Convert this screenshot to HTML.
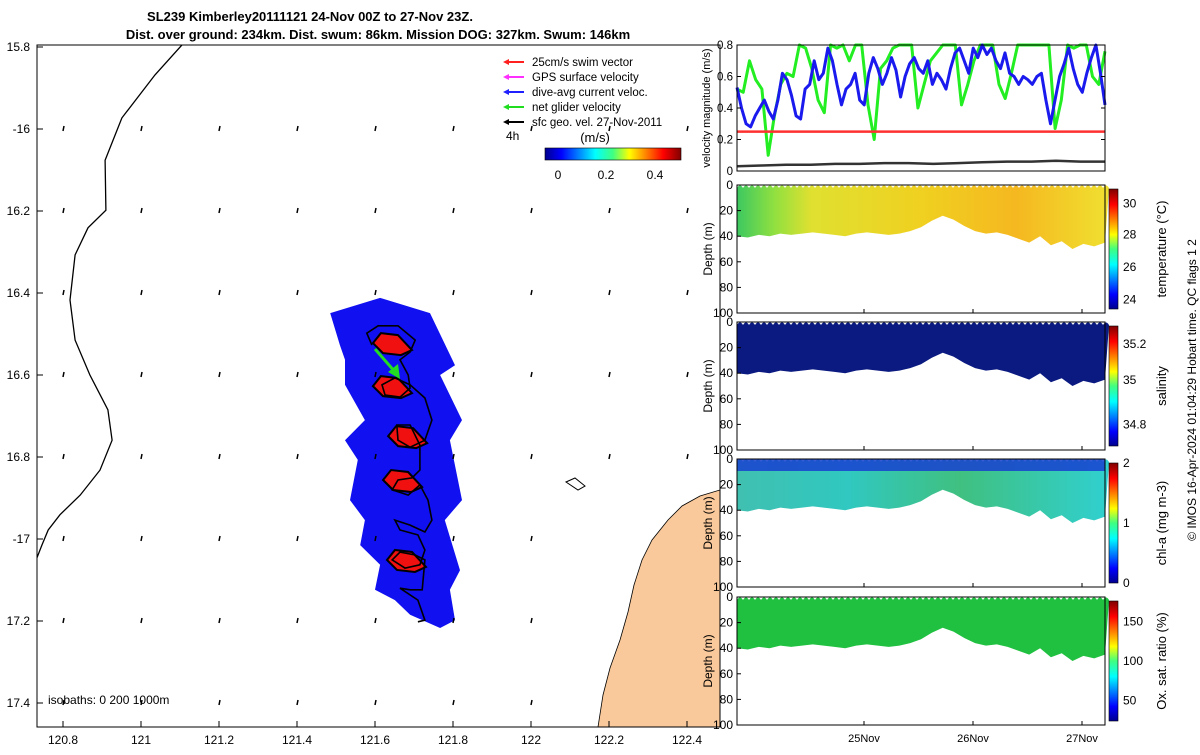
<!DOCTYPE html>
<html><head><meta charset="utf-8">
<style>
body{margin:0;background:#fff;font-family:"Liberation Sans",sans-serif;}
svg text{font-family:"Liberation Sans",sans-serif;}
</style></head>
<body>
<svg id="fig" width="1200" height="750" viewBox="0 0 1200 750">
<defs>
<linearGradient id="jet" x1="0" x2="1" y1="0" y2="0">
<stop offset="0" stop-color="#00008f"/><stop offset="0.12" stop-color="#0000ff"/><stop offset="0.37" stop-color="#00ffff"/><stop offset="0.5" stop-color="#40ff80"/><stop offset="0.62" stop-color="#ffff00"/><stop offset="0.87" stop-color="#ff0000"/><stop offset="1" stop-color="#800000"/></linearGradient>
<linearGradient id="jetv" x1="0" x2="0" y1="1" y2="0">
<stop offset="0" stop-color="#00008f"/><stop offset="0.12" stop-color="#0000ff"/><stop offset="0.37" stop-color="#00ffff"/><stop offset="0.5" stop-color="#40ff80"/><stop offset="0.62" stop-color="#ffff00"/><stop offset="0.87" stop-color="#ff0000"/><stop offset="1" stop-color="#800000"/></linearGradient>
<linearGradient id="gTemp" x1="0" x2="1"><stop offset="0" stop-color="#3cc860"/><stop offset="0.1" stop-color="#90e040"/><stop offset="0.2" stop-color="#e0e030"/><stop offset="0.5" stop-color="#f0d020"/><stop offset="0.75" stop-color="#f5b820"/><stop offset="1" stop-color="#f0e030"/></linearGradient>
<linearGradient id="gChl" x1="0" x2="1"><stop offset="0" stop-color="#40c0b0"/><stop offset="0.3" stop-color="#30c8c0"/><stop offset="0.6" stop-color="#40c080"/><stop offset="1" stop-color="#30d0d0"/></linearGradient>
<clipPath id="mapclip"><rect x="37" y="45" width="683" height="682"/></clipPath>
</defs>
<text x="310" y="21" font-size="13" font-weight="bold" text-anchor="middle">SL239 Kimberley20111121 24-Nov 00Z to 27-Nov 23Z.</text>
<text x="378" y="39" font-size="13" font-weight="bold" text-anchor="middle">Dist. over ground: 234km. Dist. swum: 86km. Mission DOG: 327km. Swum: 146km</text>
<g id="map"></g>
<g id="vel"></g>
<g id="sec"></g>
<text transform="translate(1196,390) rotate(-90)" font-size="12" text-anchor="middle">© IMOS 16-Apr-2024 01:04:29 Hobart time. QC flags 1  2</text>
</svg>
<script>
const NS="http://www.w3.org/2000/svg";
function mk(tag,attrs,parent,txt){const e=document.createElementNS(NS,tag);for(const k in attrs)e.setAttribute(k,attrs[k]);if(txt!==undefined)e.textContent=txt;parent.appendChild(e);return e;}

// ---------- MAP DATA ----------
const lonTicks=[120.8,121,121.2,121.4,121.6,121.8,122,122.2,122.4];
const latTicks=[-15.8,-16,-16.2,-16.4,-16.6,-16.8,-17,-17.2,-17.4];
const latLabels=["15.8","-16","16.2","16.4","16.6","16.8","-17","17.2","17.4"];
const coastLon=[121.105,121.036,120.951,120.908,120.910,120.864,120.831,120.818,120.831,120.869,120.915,120.926,120.895,120.844,120.792,120.762,120.746,120.733];
const coastLat=[-15.795,-15.868,-15.973,-16.076,-16.198,-16.241,-16.307,-16.417,-16.515,-16.600,-16.685,-16.759,-16.832,-16.893,-16.941,-16.978,-17.015,-17.046];
const blueLon=[121.485,121.613,121.741,121.805,121.767,121.823,121.792,121.823,121.779,121.818,121.792,121.805,121.767,121.690,121.651,121.600,121.613,121.562,121.574,121.536,121.556,121.523,121.574,121.523,121.523,121.510];
const blueLat=[-16.449,-16.412,-16.449,-16.576,-16.600,-16.710,-16.759,-16.905,-16.954,-17.076,-17.124,-17.198,-17.217,-17.185,-17.149,-17.124,-17.063,-17.015,-16.954,-16.905,-16.807,-16.759,-16.710,-16.624,-16.563,-16.527];
const redLon=[121.646,121.646,121.685,121.672,121.682];
const redLat=[-16.527,-16.632,-16.754,-16.861,-17.056];
const trackLon=[121.592,121.579,121.608,121.659,121.703,121.690,121.664,121.685,121.690,121.664,121.626,121.618,121.651,121.690,121.728,121.746,121.728,121.690,121.659,121.656,121.690,121.715,121.715,121.695,121.659,121.644,121.685,121.715,121.736,121.746,121.728,121.690,121.651,121.664,121.710,121.728,121.715,121.677,121.644,121.664,121.703,121.728,121.721,121.690,121.664,121.710,121.728,121.710];
const trackLat=[-16.527,-16.498,-16.480,-16.480,-16.515,-16.544,-16.563,-16.600,-16.632,-16.654,-16.649,-16.624,-16.607,-16.624,-16.656,-16.710,-16.759,-16.776,-16.759,-16.722,-16.722,-16.771,-16.832,-16.851,-16.856,-16.880,-16.893,-16.868,-16.905,-16.954,-16.983,-16.966,-16.954,-16.978,-16.990,-17.027,-17.063,-17.071,-17.051,-17.032,-17.039,-17.051,-17.124,-17.124,-17.120,-17.149,-17.198,-17.202];

const X=lon=>63+(lon-120.8)*390;
const Y=lat=>47+(-15.8-lat)*410;
const map=document.getElementById('map');
mk('rect',{x:37,y:45,width:683,height:682,fill:'#fff',stroke:'none'},map);
const mc=mk('g',{'clip-path':'url(#mapclip)'},map);
const land=mk('path',{d:'M720,490 L700,496 L682,506 L668,520 L652,540 L642,560 L634,585 L628,612 L620,640 L610,668 L603,695 L598,727 L720,727 Z',fill:'#f9c99b',stroke:'#000','stroke-width':0.8},mc);


mk('path',{d:'M566,482 L575,478 L585,486 L578,490 Z',fill:'none',stroke:'#000','stroke-width':1},mc);
let d='';blueLon.forEach((v,i)=>{d+=(i?'L':'M')+X(v).toFixed(1)+','+Y(blueLat[i]).toFixed(1);});
const bl=mk('path',{d:d+'Z',fill:'#1010f0'},mc);


redLon.forEach((v,i)=>{const cx=X(v),cy=Y(redLat[i]);
 const p=mk('polygon',{points:`${cx-20},${cy-2} ${cx-12},${cy-12} ${cx+5},${cy-10} ${cx+19},${cy+5} ${cx+8},${cy+10} ${cx-10},${cy+8}`,fill:'#f01010',stroke:'#000','stroke-width':2},mc);
 
 });
d='';trackLon.forEach((v,i)=>{d+=(i?'L':'M')+X(v).toFixed(1)+','+Y(trackLat[i]).toFixed(1);});
const tr=mk('path',{d:d,fill:'none',stroke:'#000','stroke-width':1.6},mc);


mk('line',{x1:375,y1:349,x2:396,y2:373,stroke:'#22dd22','stroke-width':3},mc);
mk('polygon',{points:'400,379 388,372 398,364',fill:'#22dd22'},mc);
d='';coastLon.forEach((v,i)=>{d+=(i?'L':'M')+X(v).toFixed(1)+','+Y(coastLat[i]).toFixed(1);});
const cl=mk('path',{d:d,fill:'none',stroke:'#000','stroke-width':1.3},mc);


lonTicks.forEach(lo=>latTicks.slice(1).forEach(la=>{const x=X(lo),y=Y(la);if(x>590&&y>500)return;
 mk('line',{x1:x,y1:y+2,x2:x+1,y2:y-3,stroke:'#000','stroke-width':1.5},mc);}));
mk('rect',{x:37,y:45,width:683,height:682,fill:'none',stroke:'#000','stroke-width':1},map);
lonTicks.forEach(v=>{const x=X(v);mk('line',{x1:x,y1:727,x2:x,y2:721,stroke:'#000'},map);
 const t=mk('text',{x:x,y:744,'font-size':12,'text-anchor':'middle'},map,String(v));
 });
latTicks.forEach((v,i)=>{const y=Y(v);mk('line',{x1:37,y1:y,x2:43,y2:y,stroke:'#000'},map);
 const t=mk('text',{x:30,y:y+4,'font-size':12,'text-anchor':'end'},map,latLabels[i]);
 });
mk('text',{x:48,y:704,'font-size':12},map,'isobaths: 0   200  1000m');
const legItems=[['25cm/s swim vector','#ff2020'],['GPS surface velocity','#ff30ff'],['dive-avg current veloc.','#2020ff'],['net glider velocity','#20dd20'],['sfc geo. vel. 27-Nov-2011','#000']];
legItems.forEach((it,i)=>{const y=62+i*15;const g=mk('g',{},map);
 
 mk('line',{x1:506,y1:y,x2:524,y2:y,stroke:it[1],'stroke-width':2},g);
 mk('polygon',{points:`${503},${y} ${509},${y-3} ${509},${y+3}`,fill:it[1]},g);
 mk('text',{x:532,y:y+4,'font-size':11.5},g,it[0]);});
mk('text',{x:506,y:140,'font-size':12},map,'4h');
mk('text',{x:595,y:142,'font-size':13,'text-anchor':'middle'},map,'(m/s)');
const cb=mk('rect',{x:545,y:148,width:136,height:12,fill:'url(#jet)',stroke:'#000','stroke-width':0.6},map);

[['0',558],['0.2',606],['0.4',655]].forEach(a=>mk('text',{x:a[1],y:179,'font-size':12,'text-anchor':'middle'},map,a[0]));

// ---------- VELOCITY DATA ----------
const blueVals=[0.53,0.40,0.30,0.28,0.35,0.40,0.45,0.38,0.33,0.45,0.62,0.58,0.48,0.35,0.33,0.52,0.55,0.70,0.58,0.62,0.78,0.70,0.55,0.42,0.52,0.55,0.62,0.45,0.42,0.62,0.72,0.65,0.55,0.62,0.72,0.64,0.47,0.60,0.68,0.72,0.65,0.62,0.70,0.55,0.62,0.58,0.52,0.65,0.75,0.78,0.70,0.62,0.78,0.72,0.80,0.74,0.78,0.70,0.65,0.75,0.62,0.60,0.55,0.60,0.58,0.55,0.60,0.62,0.45,0.30,0.45,0.60,0.68,0.78,0.65,0.55,0.50,0.62,0.72,0.80,0.62,0.42];
const greenVals=[0.52,0.50,0.70,0.58,0.52,0.10,0.35,0.55,0.62,0.60,0.80,0.78,0.65,0.45,0.37,0.80,0.78,0.80,0.70,0.80,0.80,0.42,0.20,0.65,0.70,0.78,0.80,0.80,0.80,0.40,0.55,0.70,0.75,0.80,0.80,0.80,0.42,0.55,0.70,0.80,0.80,0.80,0.55,0.46,0.62,0.80,0.80,0.80,0.80,0.80,0.80,0.27,0.45,0.80,0.78,0.80,0.80,0.60,0.55,0.76];
const geoVals=[0.03,0.035,0.04,0.04,0.045,0.045,0.05,0.05,0.045,0.05,0.055,0.06,0.06,0.065,0.06,0.06];
const swimVal=0.25;
const velTicks=[0,0.2,0.4,0.6,0.8];
const VX0=737,VX1=1105;
const VY=v=>171-Math.min(v,0.8)*157.5;
const vel=document.getElementById('vel');
function series(vals,color,w,name){let d='';vals.forEach((v,i)=>{const x=VX0+i*(VX1-VX0)/(vals.length-1);d+=(i?'L':'M')+x.toFixed(1)+','+VY(v).toFixed(1);});
 const p=mk('path',{d:d,fill:'none',stroke:color,'stroke-width':w,'stroke-linejoin':'round'},vel);
 }
series(greenVals,'#22ee22',3,'net-glider-velocity-line');
series(blueVals,'#1a1aee',3,'dive-avg-current-line');
series([swimVal,swimVal],'#ff3030',2.5,'swim-vector-line');
series(geoVals,'#333',2.5,'sfc-geo-velocity-line');
mk('rect',{x:737,y:45,width:368,height:126,fill:'none',stroke:'#000','stroke-width':1},vel);
velTicks.forEach(v=>{const y=VY(v);mk('line',{x1:737,y1:y,x2:741,y2:y,stroke:'#000'},vel);mk('line',{x1:1101,y1:y,x2:1105,y2:y,stroke:'#000'},vel);
 mk('text',{x:733,y:y+4,'font-size':11.5,'text-anchor':'end'},vel,String(v));});
mk('text',{transform:'translate(710,108) rotate(-90)','font-size':11,'text-anchor':'middle'},vel,'velocity magnitude (m/s)');

// ---------- SECTION DATA ----------
const bottomDepth=[40,41,39,40,38,39,38,37,38,39,40,38,37,38,39,38,36,33,28,24,27,32,36,38,37,39,42,45,40,47,44,50,46,48,45];
const dayTicks=[25,26,27];
const dayLabels=['25Nov','26Nov','27Nov'];
const depthTicks=[0,20,40,60,80,100];
const panels=[
 {top:185,fill:'url(#gTemp)',name:'temperature',label:'temperature (°C)',ticks:['24','26','28','30'],tpos:[0.08,0.35,0.62,0.88]},
 {top:322,fill:'#0a1a80',name:'salinity',label:'salinity',ticks:['34.8','35','35.2'],tpos:[0.18,0.55,0.85]},
 {top:459,fill:'url(#gChl)',name:'chl-a',label:'chl-a (mg m-3)',ticks:['0','1','2'],tpos:[0,0.5,1]},
 {top:597,fill:'#20c040',name:'oxygen',label:'Ox. sat. ratio (%)',ticks:['50','100','150'],tpos:[0.17,0.5,0.83]}
];
const SX=d=>864+(d-25)*109;
const D0=23.835,D1=27.211;
const sec=document.getElementById('sec');
panels.forEach((p,pi)=>{
 const h=128,DY=v=>p.top+v*h/100;
 const g=mk('g',{},sec);
 let d='M737,'+(p.top+3);
 for(let x=737;x<=1105;x+=6)d+=`Q${x+3},${p.top-2} ${x+6},${p.top+3}`;
 bottomDepth.slice().reverse().forEach((v,i)=>{const day=D1-i*(D1-D0)/(bottomDepth.length-1);d+='L'+SX(day).toFixed(1)+','+DY(v).toFixed(1);});
 const a=mk('path',{d:d+'Z',fill:p.fill},g);
 
 if(pi===2){mk('rect',{x:737,y:p.top,width:368,height:12,fill:'#1840d0',opacity:0.85},g);}
 mk('rect',{x:737,y:p.top,width:368,height:h,fill:'none',stroke:'#000'},g);
 depthTicks.forEach(v=>{const y=DY(v);mk('line',{x1:737,y1:y,x2:741,y2:y,stroke:'#000'},g);
  mk('text',{x:733,y:y+4,'font-size':12,'text-anchor':'end'},g,String(v));});
 dayTicks.forEach(dd=>{mk('line',{x1:SX(dd),y1:p.top+h,x2:SX(dd),y2:p.top+h-4,stroke:'#000'},g);});
 mk('text',{transform:`translate(712,${p.top+64}) rotate(-90)`,'font-size':12,'text-anchor':'middle'},g,'Depth (m)');
 const c=mk('rect',{x:1109,y:p.top+4,width:9,height:h-8,fill:'url(#jetv)',stroke:'#000','stroke-width':0.6},g);
 
 p.ticks.forEach((t,i)=>{const y=p.top+4+(h-8)*(1-p.tpos[i]);mk('text',{x:1123,y:y+4,'font-size':12},g,t);});
 mk('text',{transform:`translate(1166,${p.top+64}) rotate(-90)`,'font-size':13,'text-anchor':'middle'},g,p.label);
});
dayTicks.forEach((dd,i)=>{const t=mk('text',{x:SX(dd),y:742,'font-size':11,'text-anchor':'middle'},sec,dayLabels[i]);
 });
</script>
</body></html>
